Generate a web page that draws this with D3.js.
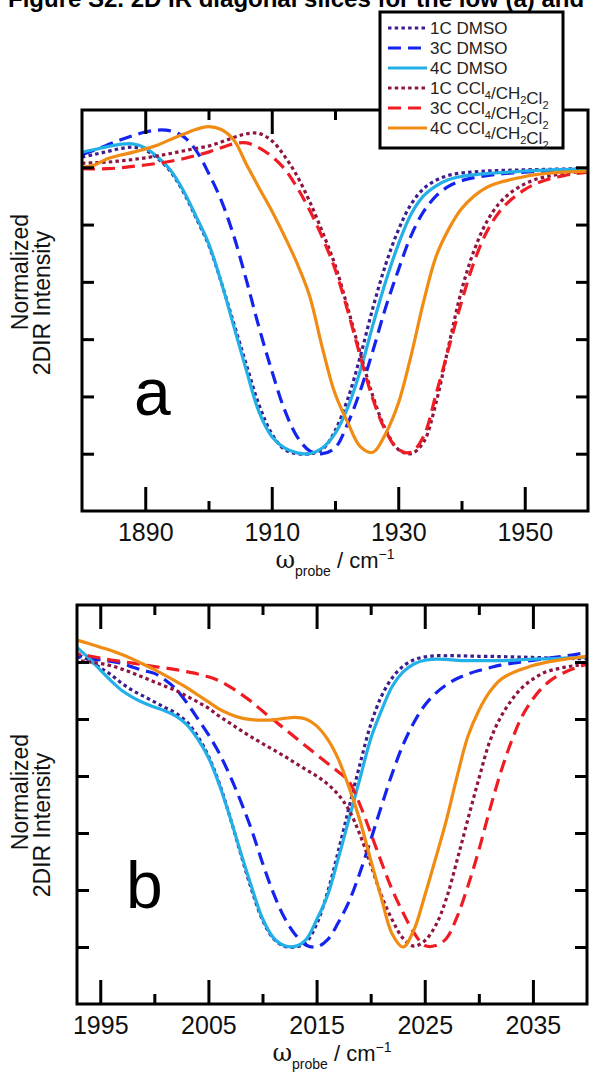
<!DOCTYPE html>
<html>
<head>
<meta charset="utf-8">
<script src="https://cdn.jsdelivr.net/npm/d3@7"></script>
<style>
    body { margin: 0; background: #fff; }
    svg { display: block; font-family: Arial, "Liberation Sans", sans-serif; }
</style>
</head>
<body>
<div id="chart"></div>
<script>
// data
const seriesLabels = ["1C DMSO", "3C DMSO", "4C DMSO", "1C CCl4/CH2Cl2", "3C CCl4/CH2Cl2", "4C CCl4/CH2Cl2"];

// panel a: probe frequency (cm-1) and normalized slices
const waveA = [1880, 1882, 1884, 1886, 1888, 1890, 1892, 1894, 1896, 1898, 1900, 1902, 1904, 1906,
    1908, 1910, 1912, 1914, 1916, 1918, 1920, 1922, 1924, 1926, 1928, 1930, 1932, 1934, 1936,
    1938, 1940, 1942, 1944, 1946, 1948, 1950, 1952, 1954, 1956, 1958, 1960];
const a1cDmso = [0.036, 0.045, 0.055, 0.065, 0.07, 0.06, 0.03, -0.015, -0.085, -0.175, -0.27, -0.40, -0.545, -0.69,
    -0.83, -0.93, -0.985, -1.0, -1.0, -0.985, -0.92, -0.81, -0.66, -0.49, -0.34, -0.22, -0.13, -0.075, -0.045,
    -0.028, -0.02, -0.016, -0.013, -0.011, -0.01, -0.009, -0.008, -0.007, -0.006, -0.005, -0.005];
const a3cDmso = [0.045, 0.06, 0.078, 0.095, 0.11, 0.123, 0.13, 0.127, 0.108, 0.06, -0.02, -0.115, -0.24, -0.395,
    -0.56, -0.71, -0.845, -0.94, -0.99, -1.0, -0.98, -0.895, -0.78, -0.64, -0.49, -0.36, -0.24, -0.155, -0.10,
    -0.066, -0.047, -0.036, -0.029, -0.024, -0.02, -0.017, -0.015, -0.013, -0.012, -0.011, -0.01];
const a4cDmso = [0.053, 0.062, 0.072, 0.08, 0.082, 0.068, 0.035, -0.01, -0.08, -0.17, -0.265, -0.40, -0.555, -0.71,
    -0.855, -0.94, -0.98, -0.997, -1.0, -0.98, -0.93, -0.84, -0.71, -0.55, -0.40, -0.27, -0.165, -0.10, -0.065,
    -0.043, -0.032, -0.026, -0.022, -0.019, -0.016, -0.013, -0.011, -0.009, -0.008, -0.006, -0.005];
const a1cCcl = [0.014, 0.016, 0.018, 0.022, 0.027, 0.033, 0.04, 0.048, 0.057, 0.066, 0.074, 0.088, 0.104, 0.117,
    0.118, 0.093, 0.04, -0.03, -0.12, -0.225, -0.34, -0.49, -0.65, -0.80, -0.915, -0.985, -1.0, -0.96, -0.82,
    -0.62, -0.43, -0.29, -0.19, -0.125, -0.085, -0.058, -0.04, -0.03, -0.022, -0.017, -0.014];
const a3cCcl = [-0.005, -0.006, -0.005, -0.002, 0.003, 0.008, 0.014, 0.021, 0.03, 0.041, 0.053, 0.068, 0.082, 0.085,
    0.068, 0.038, -0.005, -0.07, -0.15, -0.245, -0.355, -0.50, -0.66, -0.81, -0.92, -0.985, -0.995, -0.94, -0.79,
    -0.63, -0.47, -0.33, -0.225, -0.155, -0.11, -0.078, -0.055, -0.04, -0.03, -0.022, -0.017];
const a4cCcl = [0.0, 0.008, 0.03, 0.042, 0.052, 0.064, 0.078, 0.097, 0.115, 0.132, 0.142, 0.132, 0.095, 0.01,
    -0.072, -0.152, -0.24, -0.335, -0.45, -0.63, -0.79, -0.89, -0.975, -0.995, -0.93, -0.825, -0.66, -0.47, -0.31,
    -0.215, -0.145, -0.10, -0.07, -0.053, -0.042, -0.032, -0.025, -0.02, -0.017, -0.015, -0.013];

// panel b
const waveB = [1992, 1993, 1994, 1995, 1996, 1997, 1998, 1999, 2000, 2001, 2002, 2003, 2004, 2005, 2006, 2007,
    2008, 2009, 2010, 2011, 2012, 2013, 2014, 2015, 2016, 2017, 2018, 2019, 2020, 2021, 2022, 2023, 2024, 2025,
    2026, 2027, 2028, 2029, 2030, 2031, 2032, 2033, 2034, 2035, 2036, 2037, 2038, 2039, 2040];
const b1cDmso = [0.05, 0.025, 0.005, -0.02, -0.045, -0.075, -0.10, -0.12, -0.14, -0.16, -0.18, -0.21, -0.26, -0.33,
    -0.425, -0.545, -0.675, -0.80, -0.905, -0.97, -0.997, -1.0, -0.985, -0.92, -0.81, -0.665, -0.51, -0.36, -0.22,
    -0.12, -0.055, -0.015, 0.008, 0.018, 0.022, 0.022, 0.022, 0.021, 0.02, 0.02, 0.019, 0.018, 0.017, 0.016,
    0.015, 0.014, 0.013, 0.012, 0.012];
const b3cDmso = [0.022, 0.017, 0.012, 0.007, 0.002, -0.005, -0.018, -0.03, -0.04, -0.063, -0.095, -0.143, -0.198,
    -0.255, -0.32, -0.40, -0.49, -0.59, -0.705, -0.81, -0.895, -0.955, -0.993, -1.0, -0.975, -0.915, -0.84, -0.74,
    -0.625, -0.505, -0.39, -0.29, -0.212, -0.152, -0.11, -0.08, -0.058, -0.042, -0.03, -0.02, -0.011, -0.005,
    0.001, 0.006, 0.011, 0.016, 0.021, 0.027, 0.034];
const b4cDmso = [0.085, 0.046, 0.012, -0.028, -0.066, -0.10, -0.124, -0.143, -0.158, -0.172, -0.19, -0.22, -0.27,
    -0.335, -0.43, -0.545, -0.67, -0.79, -0.90, -0.967, -0.995, -0.998, -0.975, -0.905, -0.82, -0.69, -0.55, -0.41,
    -0.27, -0.17, -0.085, -0.035, -0.007, 0.006, 0.01, 0.009, 0.006, 0.005, 0.005, 0.005, 0.005, 0.006, 0.008,
    0.01, 0.011, 0.012, 0.014, 0.015, 0.017];
const b1cCcl = [0.01, 0.005, 0.0, -0.005, -0.013, -0.025, -0.039, -0.054, -0.07, -0.085, -0.10, -0.12, -0.14,
    -0.162, -0.19, -0.215, -0.24, -0.264, -0.286, -0.308, -0.33, -0.354, -0.377, -0.40, -0.428, -0.465, -0.52,
    -0.605, -0.71, -0.82, -0.905, -0.97, -0.997, -0.978, -0.925, -0.83, -0.694, -0.55, -0.41, -0.28, -0.195,
    -0.135, -0.09, -0.06, -0.038, -0.026, -0.018, -0.012, -0.007];
const b3cCcl = [0.035, 0.028, 0.021, 0.014, 0.007, 0.002, -0.004, -0.01, -0.016, -0.021, -0.027, -0.034, -0.042,
    -0.052, -0.066, -0.087, -0.112, -0.14, -0.172, -0.203, -0.233, -0.264, -0.295, -0.325, -0.355, -0.385, -0.42,
    -0.50, -0.60, -0.703, -0.80, -0.88, -0.95, -0.995, -0.995, -0.97, -0.893, -0.785, -0.66, -0.52, -0.39, -0.28,
    -0.19, -0.13, -0.085, -0.055, -0.035, -0.02, -0.007];
const b4cCcl = [0.085, 0.075, 0.064, 0.052, 0.04, 0.026, 0.01, -0.008, -0.027, -0.047, -0.068, -0.09, -0.115, -0.14,
    -0.165, -0.183, -0.196, -0.202, -0.204, -0.203, -0.198, -0.194, -0.20, -0.224, -0.27, -0.34, -0.44, -0.555,
    -0.694, -0.83, -0.955, -1.0, -0.94, -0.82, -0.69, -0.555, -0.40, -0.26, -0.17, -0.105, -0.062, -0.04, -0.025,
    -0.012, -0.003, 0.004, 0.01, 0.015, 0.02];

const majorA = [1890, 1910, 1930, 1950];
const minorA = [1900, 1920, 1940];
const majorB = [1995, 2005, 2015, 2025, 2035];
const minorB = [2000, 2010, 2020, 2030];
const yTicks = [-1.0, -0.8, -0.6, -0.4, -0.2, 0.0];

// constants
const WIDTH = 590;
const HEIGHT = 1076;
const TITLE = "Figure S2. 2D IR diagonal slices for the low (a) and high (b) frequency bands";
const COLORS = ["#3d1d8e", "#1424ee", "#22b0e6", "#8e1541", "#f01c24", "#f08c14"];
const DASHES = ["3.5,3.2", "13,7", null, "3.5,3.2", "13,7", null];
const LINE_W = 3.2;
const FRAME_W = 3;
const MAJOR_LEN = 24;
const MINOR_LEN = 10;
const Y_TICK_LEN = 12;
const LABEL_FONT = 23;

const svg = d3.select("#chart").append("svg")
    .attr("width", WIDTH)
    .attr("height", HEIGHT);
svg.append("rect").attr("width", WIDTH).attr("height", HEIGHT).attr("fill", "#fff");

// the caption is cut by the top edge in the original page crop
svg.append("text")
    .attr("x", 8)
    .attr("y", 7)
    .attr("font-size", 24)
    .attr("font-weight", "bold")
    .text(TITLE);

drawPanel({
    id: "a", letter: "a",
    left: 82, right: 588, top: 110, bottom: 511,
    domain: [1880, 1960], wave: waveA,
    series: [a1cDmso, a3cDmso, a4cDmso, a1cCcl, a3cCcl, a4cCcl],
    major: majorA, minor: minorA,
    letterX: 134, letterY: 415, labelY: [272, 303]
});
drawPanel({
    id: "b", letter: "b",
    left: 77, right: 587, top: 605, bottom: 1004,
    domain: [1992.85, 2040], wave: waveB,
    series: [b1cDmso, b3cDmso, b4cDmso, b1cCcl, b3cCcl, b4cCcl],
    major: majorB, minor: minorB,
    letterX: 126, letterY: 908, labelY: [792, 825]
});
drawLegend();

function drawPanel(p) {
    const x = d3.scaleLinear().domain(p.domain).range([p.left, p.right]);
    const y = d3.scaleLinear().domain([-1.2, 0.2]).range([p.bottom, p.top]);
    const g = svg.append("g").attr("id", "panel_" + p.id);

    g.append("clipPath").attr("id", "clip_" + p.id)
        .append("rect")
        .attr("x", p.left).attr("y", p.top)
        .attr("width", p.right - p.left).attr("height", p.bottom - p.top);

    const line = d3.line()
        .x((d, i) => x(p.wave[i]))
        .y(d => y(d))
        .curve(d3.curveCatmullRom.alpha(0.5));

    g.append("g").attr("clip-path", "url(#clip_" + p.id + ")")
        .selectAll("path")
        .data(p.series)
        .join("path")
        .attr("d", d => line(d))
        .attr("fill", "none")
        .attr("stroke", (d, i) => COLORS[i])
        .attr("stroke-width", LINE_W)
        .attr("stroke-dasharray", (d, i) => DASHES[i])
        .attr("stroke-linejoin", "round");

    // axes (ticks point inward, labels only on the bottom)
    const fmt = d3.format("d");
    addAxis(g, d3.axisBottom(x).tickValues(p.major).tickSize(-MAJOR_LEN).tickPadding(12).tickFormat(fmt), 0, p.bottom, true);
    addAxis(g, d3.axisBottom(x).tickValues(p.minor).tickSize(-MINOR_LEN).tickFormat(""), 0, p.bottom);
    addAxis(g, d3.axisTop(x).tickValues(p.major).tickSize(-MAJOR_LEN).tickFormat(""), 0, p.top);
    addAxis(g, d3.axisTop(x).tickValues(p.minor).tickSize(-MINOR_LEN).tickFormat(""), 0, p.top);
    addAxis(g, d3.axisLeft(y).tickValues(yTicks).tickSize(-Y_TICK_LEN).tickFormat(""), p.left, 0);
    addAxis(g, d3.axisRight(y).tickValues(yTicks).tickSize(-Y_TICK_LEN).tickFormat(""), p.right, 0);

    g.append("rect")
        .attr("x", p.left).attr("y", p.top)
        .attr("width", p.right - p.left).attr("height", p.bottom - p.top)
        .attr("fill", "none")
        .attr("stroke", "#000")
        .attr("stroke-width", FRAME_W);

    // x title: omega_probe / cm^-1
    const xt = g.append("text")
        .attr("x", (p.left + p.right) / 2)
        .attr("y", p.bottom + 57)
        .attr("text-anchor", "middle")
        .attr("font-size", 22)
        .attr("fill", "#111");
    xt.append("tspan").attr("font-family", "'DejaVu Serif', serif").attr("font-size", 24).text("\u03c9");
    xt.append("tspan").attr("font-size", 14).attr("dy", 8).text("probe");
    xt.append("tspan").attr("dy", -8).text(" / cm");
    xt.append("tspan").attr("font-size", 14).attr("dy", -9).text("\u22121");

    // y title, two lines
    [["Normalized", 28, p.labelY[0]], ["2DIR Intensity", 50, p.labelY[1]]].forEach(([txt, lx, ly]) => {
        g.append("text")
            .attr("transform", "translate(" + lx + "," + ly + ") rotate(-90)")
            .attr("text-anchor", "middle")
            .attr("font-size", LABEL_FONT)
            .attr("fill", "#111")
            .text(txt);
    });

    g.append("text")
        .attr("x", p.letterX)
        .attr("y", p.letterY)
        .attr("font-size", 66)
        .attr("fill", "#000")
        .text(p.letter);
}

function addAxis(g, axis, tx, ty, labels) {
    const a = g.append("g")
        .attr("transform", "translate(" + tx + "," + ty + ")")
        .call(axis);
    a.select(".domain").remove();
    a.selectAll(".tick line").attr("stroke", "#000").attr("stroke-width", FRAME_W);
    if (labels) {
        a.selectAll(".tick text")
            .attr("font-size", 25)
            .attr("font-family", "Arial, 'Liberation Sans', sans-serif")
            .attr("fill", "#111");
    }
}

function drawLegend() {
    const lx = 380, ly = 12, lw = 183, lh = 136;
    const lg = svg.append("g").attr("id", "legend");
    lg.append("rect")
        .attr("x", lx).attr("y", ly).attr("width", lw).attr("height", lh)
        .attr("fill", "#fff").attr("stroke", "#000").attr("stroke-width", 3);

    const rowY = d3.scalePoint().domain(d3.range(seriesLabels.length)).range([ly + 16, ly + 116]);
    const rows = lg.selectAll(".legendRow")
        .data(seriesLabels)
        .join("g")
        .attr("class", "legendRow")
        .attr("transform", (d, i) => "translate(0," + rowY(i) + ")");
    rows.append("line")
        .attr("x1", lx + 8).attr("x2", lx + 47)
        .attr("stroke", (d, i) => COLORS[i])
        .attr("stroke-width", LINE_W)
        .attr("stroke-dasharray", (d, i) => DASHES[i]);
    rows.each(function (d) {
        const t = d3.select(this).append("text")
            .attr("x", lx + 50).attr("y", 6)
            .attr("font-size", 17)
            .attr("fill", "#222");
        // digits that follow a letter become subscripts (CCl4, CH2Cl2)
        d.split(/(?<=[A-Za-z])(\d)/).forEach((part, k) => {
            if (!part) return;
            if (/^\d$/.test(part) && k % 2 === 1) {
                t.append("tspan").attr("font-size", 11).attr("dy", 5).text(part);
                t.append("tspan").attr("dy", -5).text("");
            } else {
                t.append("tspan").text(part);
            }
        });
    });
}
</script>
</body>
</html>
